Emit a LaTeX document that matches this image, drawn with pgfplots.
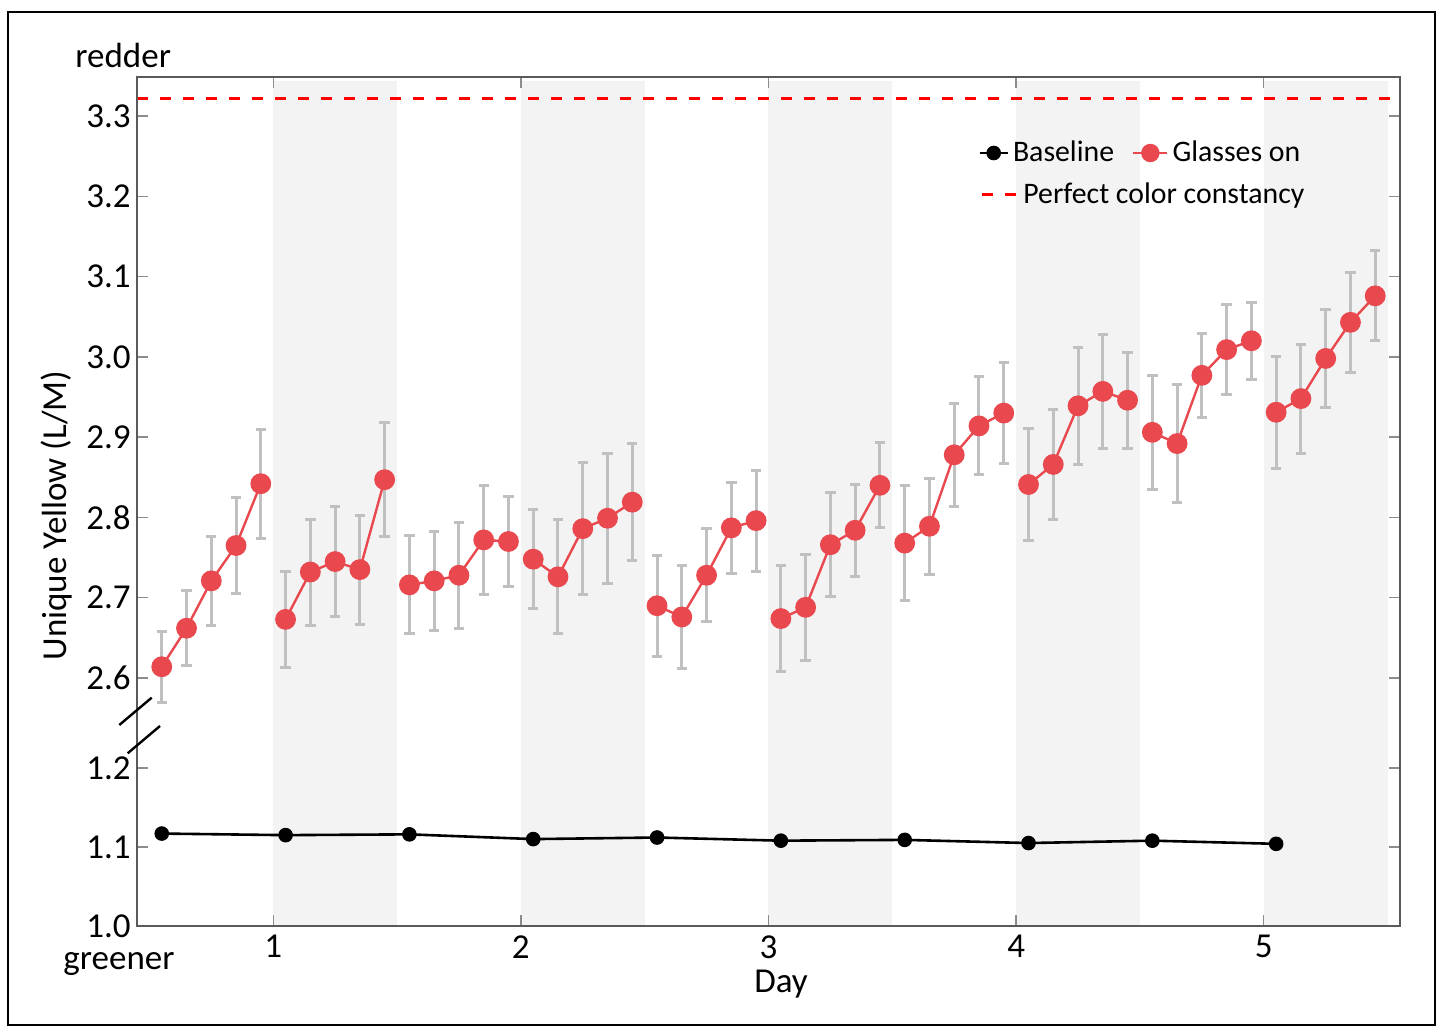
\documentclass[border=0pt]{standalone}
\usepackage{pgfplots}
\usepackage{pgfplotstable}
\pgfplotsset{compat=1.18}
\usepackage{fontspec}
\setmainfont{Carlito}
\definecolor{glred}{RGB}{232,72,78}
\definecolor{bandgray}{RGB}{243,243,243}
\definecolor{errgray}{RGB}{192,192,192}
\definecolor{spine}{RGB}{90,90,90}
\definecolor{tickgray}{RGB}{140,140,140}
\newcommand{\bigfont}{\fontsize{17.5}{20}\selectfont}
\newcommand{\legfont}{\fontsize{14.9}{17}\selectfont}
\pgfplotsset{
  common/.style={
    scale only axis, width=631.5pt,
    xmin=0.45, xmax=5.55,
    axis line style={draw=none},
    tick align=inside,
    major tick length=5.5pt,
    every tick/.style={tickgray, line width=0.7pt},
    xtick={1,2,3,4,5},
    tick label style={font=\bigfont},
    yticklabel style={inner sep=0pt, xshift=-3pt},
    xticklabel style={inner sep=0pt, yshift=-4.5pt},
    ytick pos=both,
    axis on top,
  },
  redlegcode/.style={legend image code/.code={\draw[mark repeat=2,mark phase=2,##1] plot coordinates {(0pt,0pt)(8.5pt,0pt)(17pt,0pt)};}},
}
\pgfplotstableread{
x y e
0.55 2.614 0.044
0.65 2.662 0.047
0.75 2.721 0.055
0.85 2.765 0.060
0.95 2.842 0.068
nan nan nan
1.05 2.673 0.060
1.15 2.732 0.066
1.25 2.745 0.069
1.35 2.735 0.068
1.45 2.847 0.071
nan nan nan
1.55 2.716 0.061
1.65 2.721 0.062
1.75 2.728 0.066
1.85 2.772 0.068
1.95 2.770 0.056
nan nan nan
2.05 2.748 0.062
2.15 2.726 0.071
2.25 2.786 0.082
2.35 2.799 0.081
2.45 2.819 0.073
nan nan nan
2.55 2.690 0.063
2.65 2.676 0.064
2.75 2.728 0.058
2.85 2.787 0.057
2.95 2.796 0.063
nan nan nan
3.05 2.674 0.066
3.15 2.688 0.066
3.25 2.766 0.065
3.35 2.784 0.057
3.45 2.840 0.053
nan nan nan
3.55 2.768 0.072
3.65 2.789 0.060
3.75 2.878 0.064
3.85 2.914 0.061
3.95 2.930 0.063
nan nan nan
4.05 2.841 0.070
4.15 2.866 0.068
4.25 2.939 0.073
4.35 2.957 0.071
4.45 2.946 0.060
nan nan nan
4.55 2.906 0.071
4.65 2.892 0.073
4.75 2.977 0.052
4.85 3.009 0.056
4.95 3.020 0.048
nan nan nan
5.05 2.931 0.070
5.15 2.948 0.068
5.25 2.998 0.061
5.35 3.043 0.062
5.45 3.076 0.056
}\glasses
\pgfplotstableread{
x y
0.55 1.117
1.05 1.115
1.55 1.116
2.05 1.110
2.55 1.112
3.05 1.108
3.55 1.109
4.05 1.105
4.55 1.108
5.05 1.104
}\baseline
\begin{document}
\begin{tikzpicture}[font=\bigfont]
\useasboundingbox (0,0) rectangle (718.5pt,513.5pt);
\draw[black, line width=0.6pt] (4pt,1pt) rectangle (717.5pt,507.5pt);
% upper axis
\begin{axis}[common, at={(68.5pt,159pt)}, anchor=south west, height=316pt,
  ymin=2.5614, ymax=3.3486,
  ytick={2.6,2.7,2.8,2.9,3.0,3.1,3.2,3.3},
  yticklabels={2.6,2.7,2.8,2.9,3.0,3.1,3.2,3.3},
  xtick pos=right, xticklabels={},
  unbounded coords=jump,
  legend columns=-1,
  legend image code/.code={\draw[mark repeat=2,mark phase=2,#1] plot coordinates {(0pt,0pt)(7pt,0pt)(14pt,0pt)};},
  legend style={at={(0.6659,0.8797)}, anchor=west, draw=none, fill=none,
    font=\legfont, inner sep=0pt,
    nodes={inner sep=2pt},
    /tikz/every even column/.append style={column sep=7pt}},
]
\addplot[draw=none, fill=bandgray, forget plot] coordinates {(1,2.5)(1,3.3436)(1.5,3.3436)(1.5,2.5)} -- cycle;
\addplot[draw=none, fill=bandgray, forget plot] coordinates {(2,2.5)(2,3.3436)(2.5,3.3436)(2.5,2.5)} -- cycle;
\addplot[draw=none, fill=bandgray, forget plot] coordinates {(3,2.5)(3,3.3436)(3.5,3.3436)(3.5,2.5)} -- cycle;
\addplot[draw=none, fill=bandgray, forget plot] coordinates {(4,2.5)(4,3.3436)(4.5,3.3436)(4.5,2.5)} -- cycle;
\addplot[draw=none, fill=bandgray, forget plot] coordinates {(5,2.5)(5,3.3436)(5.5,3.3436)(5.5,2.5)} -- cycle;
\addplot[red, line width=1.5pt, dash pattern=on 5.5pt off 6pt, forget plot] coordinates {(0.45,3.322)(5.55,3.322)};
\addplot[errgray, only marks, mark=none, forget plot,
  error bars/.cd, y dir=both, y explicit,
  error bar style={errgray, line width=1.5pt},
  error mark=-,
  error mark options={errgray, line width=1.5pt, mark size=2.6pt, rotate=90}]
  table[x=x, y=y, y error=e] {\glasses};
\addplot[glred, line width=1.2pt, mark=*, mark size=4.6pt, mark options={solid, fill=glred, draw=glred}, forget plot]
  table[x=x, y=y] {\glasses};
\addlegendimage{black, line width=1.3pt, mark=*, mark size=3pt}
\addlegendentry{Baseline}
\addlegendimage{glred, line width=1.2pt, mark=*, mark size=4pt, redlegcode}
\addlegendentry{Glasses on}
\end{axis}
% lower axis
\begin{axis}[common, at={(68.5pt,50.5pt)}, anchor=south west, height=108.5pt,
  ymin=1.0, ymax=1.2747,
  ytick={1.0,1.1,1.2}, yticklabels={1.0,1.1,1.2},
  xtick pos=left, xticklabels={1,2,3,4,5},
  legend image code/.code={\draw[#1] (0pt,0pt) -- (18pt,0pt);},
  legend style={at={(0.6675,3.3687)}, anchor=west, draw=none, fill=none,
    font=\legfont, inner sep=0pt, nodes={inner sep=2pt}},
]
\addplot[draw=none, fill=bandgray, forget plot] coordinates {(1,0.9)(1,1.3)(1.5,1.3)(1.5,0.9)} -- cycle;
\addplot[draw=none, fill=bandgray, forget plot] coordinates {(2,0.9)(2,1.3)(2.5,1.3)(2.5,0.9)} -- cycle;
\addplot[draw=none, fill=bandgray, forget plot] coordinates {(3,0.9)(3,1.3)(3.5,1.3)(3.5,0.9)} -- cycle;
\addplot[draw=none, fill=bandgray, forget plot] coordinates {(4,0.9)(4,1.3)(4.5,1.3)(4.5,0.9)} -- cycle;
\addplot[draw=none, fill=bandgray, forget plot] coordinates {(5,0.9)(5,1.3)(5.5,1.3)(5.5,0.9)} -- cycle;
\addplot[black, line width=1.3pt, mark=*, mark size=3pt, mark options={solid}, forget plot]
  table[x=x, y=y] {\baseline};
\addlegendimage{red, line width=1.5pt, dash pattern=on 5.5pt off 6pt}
\addlegendentry{Perfect color constancy}
\end{axis}
% frame
\draw[spine, line width=0.8pt] (68.5pt,50.5pt) rectangle (700pt,475pt);
% break marks
\draw[black, line width=1.2pt] (59.65pt,151pt) -- (75.85pt,164.65pt);
\draw[black, line width=1.2pt] (63.85pt,136.85pt) -- (80pt,150.5pt);
% texts
\node[anchor=base west, inner sep=0pt] at (37.5pt,479.5pt) {redder};
\node[anchor=base west, inner sep=0pt] at (31.5pt,28.5pt) {greener};
\node[anchor=base, inner sep=0pt] at (390.5pt,17pt) {Day};
\node[rotate=90, inner sep=0pt] at (28.5pt,255.75pt) {Unique Yellow (L/M)};
\end{tikzpicture}
\end{document}
